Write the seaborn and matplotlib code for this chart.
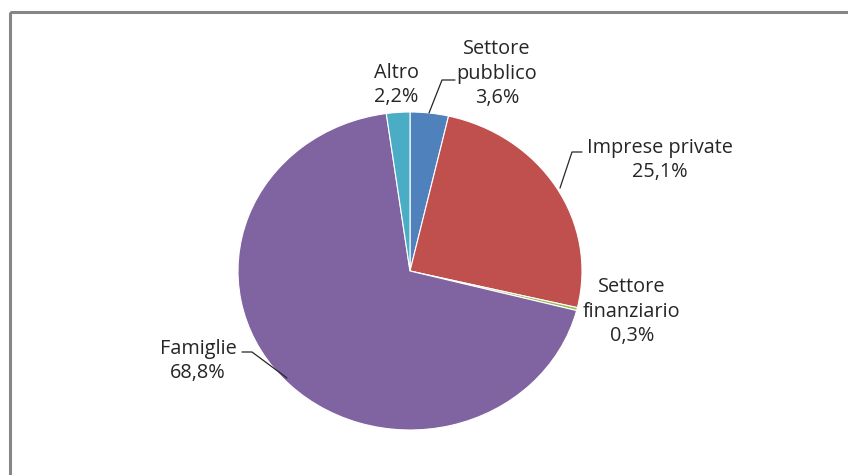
import matplotlib
matplotlib.use("Agg")
import matplotlib.pyplot as plt
import seaborn as sns
from matplotlib.patches import Rectangle

labels = ["Settore\npubblico", "Imprese private", "Settore\nfinanziario", "Famiglie", "Altro"]
values = [3.6, 25.1, 0.3, 68.8, 2.2]
value_labels = ["3,6%", "25,1%", "0,3%", "68,8%", "2,2%"]
colors = ["#4F81BD", "#C0504D", "#9BBB59", "#8064A2", "#4BACC6"]

sns.set_theme(style="white")
plt.rcParams['font.family'] = ['Open Sans', 'DejaVu Sans']

W, H = 848, 475
fig = plt.figure(figsize=(W / 100, H / 100), dpi=100)

# pie axes (pixel box: x 238..582, y 112..430)
px0, py0, pw, ph = 238, 112, 344, 318
ax = fig.add_axes([px0 / W, 1 - (py0 + ph) / H, pw / W, ph / H])
ax.pie(values, colors=colors, startangle=90, counterclock=False,
       wedgeprops=dict(edgecolor="white", linewidth=0.8))
ax.set_aspect("auto")
ax.set_xlim(-1, 1)
ax.set_ylim(-1, 1)
ax.axis("off")

# overlay axes in pixel coordinates
ov = fig.add_axes([0, 0, 1, 1], zorder=5)
ov.set_xlim(0, W)
ov.set_ylim(H, 0)
ov.axis("off")
ov.patch.set_alpha(0)

ov.add_patch(Rectangle((10, 12), W, H, fill=False, edgecolor="#868686", linewidth=2.2))

fs = 14.3
tc = "#262626"
texts = [
    (497, 74, labels[0] + "\n" + value_labels[0]),
    (660, 160, labels[1] + "\n" + value_labels[1]),
    (632, 312, labels[2] + "\n" + value_labels[2]),
    (198, 361, labels[3] + "\n" + value_labels[3]),
    (396, 85, labels[4] + "\n" + value_labels[4]),
]
for x, y, t in texts:
    ov.text(x, y, t, ha="center", va="center", fontsize=fs, color=tc, linespacing=1.3)

lc = "#262626"
ov.plot([429, 442, 455], [113, 80, 80], color=lc, lw=0.9)
ov.plot([560, 572, 582], [188, 152, 152], color=lc, lw=0.9)
ov.plot([242, 252, 287], [352, 352, 378], color=lc, lw=0.9)

fig.savefig("out.png", dpi=100)
